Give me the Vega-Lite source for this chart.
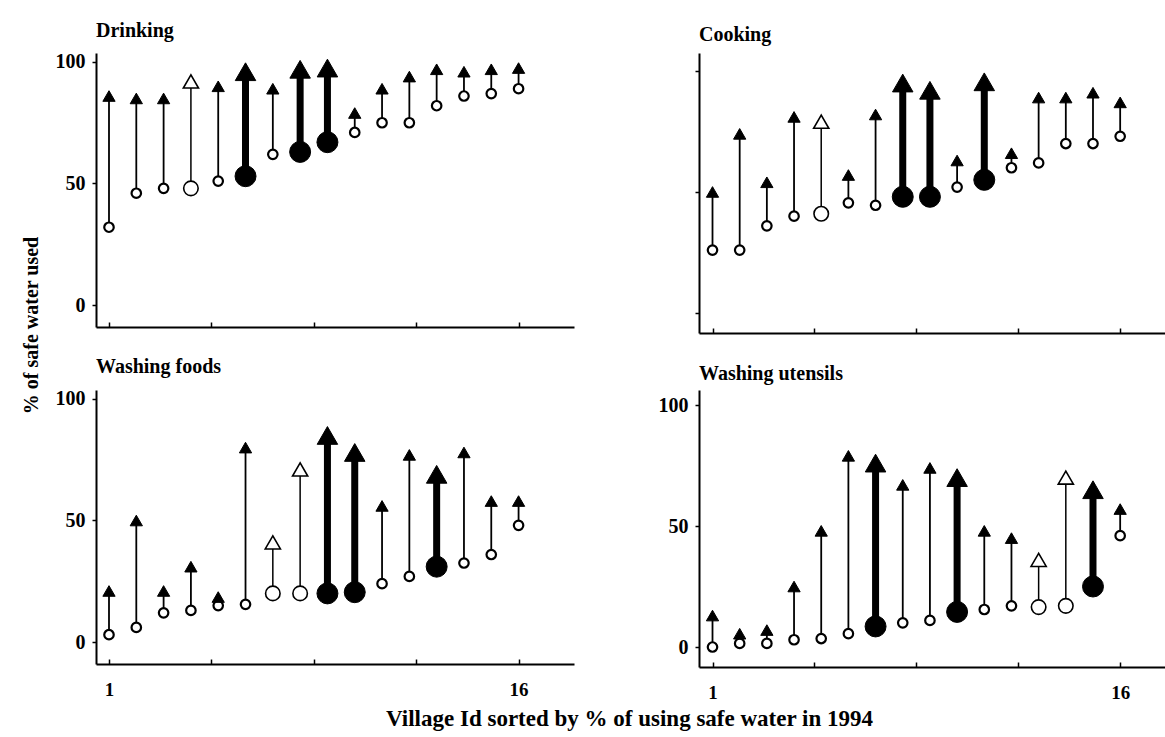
{
  "$schema": "https://vega.github.io/schema/vega-lite/v6.json",
  "padding": {"left": 21, "top": 20, "right": 0, "bottom": 0},
  "background": "white",
  "config": {
    "view": {"stroke": null},
    "font": "Liberation Serif",
    "axis": {
      "grid": false,
      "domainColor": "black",
      "domainWidth": 2,
      "tickColor": "black",
      "tickWidth": 1.5,
      "labelFont": "Liberation Serif",
      "labelFontSize": 20,
      "labelFontWeight": "bold",
      "labelColor": "black",
      "titleFont": "Liberation Serif",
      "titleColor": "black"
    },
    "title": {"font": "Liberation Serif", "fontSize": 20, "fontWeight": "bold", "color": "black"}
  },
  "data": {
    "values": [
      {"panel": "Drinking", "village": 1, "start": 32, "end": 86, "group": "a"},
      {"panel": "Drinking", "village": 2, "start": 46, "end": 85, "group": "a"},
      {"panel": "Drinking", "village": 3, "start": 48, "end": 85, "group": "a"},
      {"panel": "Drinking", "village": 4, "start": 48, "end": 92, "group": "c"},
      {"panel": "Drinking", "village": 5, "start": 51, "end": 90, "group": "a"},
      {"panel": "Drinking", "village": 6, "start": 53, "end": 96, "group": "b"},
      {"panel": "Drinking", "village": 7, "start": 62, "end": 89, "group": "a"},
      {"panel": "Drinking", "village": 8, "start": 63, "end": 97, "group": "b"},
      {"panel": "Drinking", "village": 9, "start": 67, "end": 97.5, "group": "b"},
      {"panel": "Drinking", "village": 10, "start": 71, "end": 79, "group": "a"},
      {"panel": "Drinking", "village": 11, "start": 75, "end": 89, "group": "a"},
      {"panel": "Drinking", "village": 12, "start": 75, "end": 94, "group": "a"},
      {"panel": "Drinking", "village": 13, "start": 82, "end": 97, "group": "a"},
      {"panel": "Drinking", "village": 14, "start": 86, "end": 96, "group": "a"},
      {"panel": "Drinking", "village": 15, "start": 87, "end": 97, "group": "a"},
      {"panel": "Drinking", "village": 16, "start": 89, "end": 97.5, "group": "a"},
      {"panel": "Cooking", "village": 1, "start": 26, "end": 50, "group": "a"},
      {"panel": "Cooking", "village": 2, "start": 26, "end": 74, "group": "a"},
      {"panel": "Cooking", "village": 3, "start": 36, "end": 54, "group": "a"},
      {"panel": "Cooking", "village": 4, "start": 40, "end": 81, "group": "a"},
      {"panel": "Cooking", "village": 5, "start": 41, "end": 79, "group": "c"},
      {"panel": "Cooking", "village": 6, "start": 45.5, "end": 57, "group": "a"},
      {"panel": "Cooking", "village": 7, "start": 44.5, "end": 82, "group": "a"},
      {"panel": "Cooking", "village": 8, "start": 48, "end": 95, "group": "b"},
      {"panel": "Cooking", "village": 9, "start": 48, "end": 92, "group": "b"},
      {"panel": "Cooking", "village": 10, "start": 52, "end": 63, "group": "a"},
      {"panel": "Cooking", "village": 11, "start": 55, "end": 95.5, "group": "b"},
      {"panel": "Cooking", "village": 12, "start": 60, "end": 66, "group": "a"},
      {"panel": "Cooking", "village": 13, "start": 62, "end": 89, "group": "a"},
      {"panel": "Cooking", "village": 14, "start": 70, "end": 89, "group": "a"},
      {"panel": "Cooking", "village": 15, "start": 70, "end": 91, "group": "a"},
      {"panel": "Cooking", "village": 16, "start": 73, "end": 87, "group": "a"},
      {"panel": "Washing foods", "village": 1, "start": 3, "end": 21, "group": "a"},
      {"panel": "Washing foods", "village": 2, "start": 6, "end": 50, "group": "a"},
      {"panel": "Washing foods", "village": 3, "start": 12, "end": 21, "group": "a"},
      {"panel": "Washing foods", "village": 4, "start": 13, "end": 31, "group": "a"},
      {"panel": "Washing foods", "village": 5, "start": 15, "end": 18.5, "group": "a"},
      {"panel": "Washing foods", "village": 6, "start": 15.5, "end": 80, "group": "a"},
      {"panel": "Washing foods", "village": 7, "start": 20, "end": 41, "group": "c"},
      {"panel": "Washing foods", "village": 8, "start": 20, "end": 71, "group": "c"},
      {"panel": "Washing foods", "village": 9, "start": 20, "end": 85, "group": "b"},
      {"panel": "Washing foods", "village": 10, "start": 20.5, "end": 78, "group": "b"},
      {"panel": "Washing foods", "village": 11, "start": 24, "end": 56, "group": "a"},
      {"panel": "Washing foods", "village": 12, "start": 27, "end": 77, "group": "a"},
      {"panel": "Washing foods", "village": 13, "start": 31, "end": 69, "group": "b"},
      {"panel": "Washing foods", "village": 14, "start": 32.5, "end": 78, "group": "a"},
      {"panel": "Washing foods", "village": 15, "start": 36, "end": 58, "group": "a"},
      {"panel": "Washing foods", "village": 16, "start": 48, "end": 58, "group": "a"},
      {"panel": "Washing utensils", "village": 1, "start": 0, "end": 13, "group": "a"},
      {"panel": "Washing utensils", "village": 2, "start": 1.5, "end": 5.5, "group": "a"},
      {"panel": "Washing utensils", "village": 3, "start": 1.5, "end": 7, "group": "a"},
      {"panel": "Washing utensils", "village": 4, "start": 3, "end": 25, "group": "a"},
      {"panel": "Washing utensils", "village": 5, "start": 3.5, "end": 48, "group": "a"},
      {"panel": "Washing utensils", "village": 6, "start": 5.5, "end": 79, "group": "a"},
      {"panel": "Washing utensils", "village": 7, "start": 8.5, "end": 76, "group": "b"},
      {"panel": "Washing utensils", "village": 8, "start": 10, "end": 67, "group": "a"},
      {"panel": "Washing utensils", "village": 9, "start": 11, "end": 74, "group": "a"},
      {"panel": "Washing utensils", "village": 10, "start": 14.5, "end": 70, "group": "b"},
      {"panel": "Washing utensils", "village": 11, "start": 15.5, "end": 48, "group": "a"},
      {"panel": "Washing utensils", "village": 12, "start": 17, "end": 45, "group": "a"},
      {"panel": "Washing utensils", "village": 13, "start": 16.5, "end": 36, "group": "c"},
      {"panel": "Washing utensils", "village": 14, "start": 17, "end": 70, "group": "c"},
      {"panel": "Washing utensils", "village": 15, "start": 25, "end": 65, "group": "b"},
      {"panel": "Washing utensils", "village": 16, "start": 46, "end": 57, "group": "a"}
    ]
  },
  "title": {
    "text": "Village Id sorted by % of using safe water in 1994",
    "orient": "bottom",
    "anchor": "middle",
    "baseline": "top",
    "fontSize": 23,
    "dx": 35,
    "offset": 6
  },
  "columns": 2,
  "align": "each",
  "bounds": "flush",
  "spacing": {"row": 57, "column": 125},
  "resolve": {"scale": {"x": "independent", "y": "independent"}},
  "concat": [
    {
      "width": 478,
      "height": 274,
      "title": {"text": "Drinking", "anchor": "start", "baseline": "alphabetic", "offset": -5, "frame": "group"},
      "transform": [{"filter": "datum.panel == 'Drinking'"}],
      "encoding": {
        "x": {"field": "village", "type": "quantitative", "scale": {"domain": [0.524, 18.03], "nice": false, "zero": false},
              "axis": {"values": [1, 4.75, 8.5, 12.25, 16], "labels": false, "tickSize": -5, "title": null}}
      },
      "layer": [
        {"mark": {"type": "rule", "color": "black"},
         "encoding": {
           "y": {"field": "start", "type": "quantitative", "scale": {"domain": [-9.05, 103.7], "nice": false, "zero": false},
                 "axis": {"values": [0, 50, 100], "tickSize": 4, "labelPadding": 7,
                          "title": "% of safe water used", "titleFontSize": 20, "titleFontWeight": "bold",
                          "titleAngle": 270, "titleAlign": "center", "titleBaseline": "alphabetic",
                          "titleX": -59, "titleY": 272}},
           "y2": {"field": "end"},
           "strokeWidth": {"condition": [{"test": "datum.group == 'b'", "value": 7}, {"test": "datum.group == 'c'", "value": 1.5}], "value": 1.8}
         }},
        {"mark": {"type": "point", "shape": "circle", "filled": true, "opacity": 1, "stroke": "black"},
         "encoding": {
           "y": {"field": "start", "type": "quantitative"},
           "size": {"condition": [{"test": "datum.group == 'b'", "value": 440}, {"test": "datum.group == 'c'", "value": 210}], "value": 90},
           "fill": {"condition": {"test": "datum.group == 'b'", "value": "black"}, "value": "white"},
           "strokeWidth": {"condition": [{"test": "datum.group == 'b'", "value": 1}, {"test": "datum.group == 'c'", "value": 1.6}], "value": 2.2}
         }},
        {"mark": {"type": "point", "shape": "triangle-up", "filled": true, "opacity": 1, "stroke": "black"},
         "encoding": {
           "y": {"field": "end", "type": "quantitative"},
           "size": {"condition": [{"test": "datum.group == 'b'", "value": 420}, {"test": "datum.group == 'c'", "value": 230}], "value": 150},
           "fill": {"condition": {"test": "datum.group == 'c'", "value": "white"}, "value": "black"},
           "strokeWidth": {"condition": {"test": "datum.group == 'c'", "value": 1.6}, "value": 1}
         }}
      ]
    },
    {
      "width": 469,
      "height": 280,
      "title": {"text": "Cooking", "anchor": "start", "baseline": "alphabetic", "offset": -8, "frame": "group"},
      "transform": [{"filter": "datum.panel == 'Cooking'"}],
      "encoding": {
        "x": {"field": "village", "type": "quantitative", "scale": {"domain": [0.503, 17.76], "nice": false, "zero": false},
              "axis": {"values": [1, 4.75, 8.5, 12.25, 16], "labels": false, "tickSize": -5, "title": null}}
      },
      "layer": [
        {"mark": {"type": "rule", "color": "black"},
         "encoding": {
           "y": {"field": "start", "type": "quantitative", "scale": {"domain": [-8.26, 107.4], "nice": false, "zero": false},
                 "axis": {"values": [0, 50, 100], "tickSize": 4, "labels": false, "title": null}},
           "y2": {"field": "end"},
           "strokeWidth": {"condition": [{"test": "datum.group == 'b'", "value": 7}, {"test": "datum.group == 'c'", "value": 1.5}], "value": 1.8}
         }},
        {"mark": {"type": "point", "shape": "circle", "filled": true, "opacity": 1, "stroke": "black"},
         "encoding": {
           "y": {"field": "start", "type": "quantitative"},
           "size": {"condition": [{"test": "datum.group == 'b'", "value": 440}, {"test": "datum.group == 'c'", "value": 210}], "value": 90},
           "fill": {"condition": {"test": "datum.group == 'b'", "value": "black"}, "value": "white"},
           "strokeWidth": {"condition": [{"test": "datum.group == 'b'", "value": 1}, {"test": "datum.group == 'c'", "value": 1.6}], "value": 2.2}
         }},
        {"mark": {"type": "point", "shape": "triangle-up", "filled": true, "opacity": 1, "stroke": "black"},
         "encoding": {
           "y": {"field": "end", "type": "quantitative"},
           "size": {"condition": [{"test": "datum.group == 'b'", "value": 420}, {"test": "datum.group == 'c'", "value": 230}], "value": 150},
           "fill": {"condition": {"test": "datum.group == 'c'", "value": "white"}, "value": "black"},
           "strokeWidth": {"condition": {"test": "datum.group == 'c'", "value": 1.6}, "value": 1}
         }}
      ]
    },
    {
      "width": 478,
      "height": 274,
      "title": {"text": "Washing foods", "anchor": "start", "baseline": "alphabetic", "offset": -4, "frame": "group"},
      "transform": [{"filter": "datum.panel == 'Washing foods'"}],
      "encoding": {
        "x": {"field": "village", "type": "quantitative", "scale": {"domain": [0.524, 18.03], "nice": false, "zero": false},
              "axis": {"values": [1, 4.75, 8.5, 12.25, 16], "labelExpr": "datum.value == 1 || datum.value == 16 ? datum.label : ''", "labelFontSize": 19, "tickSize": -5, "labelPadding": 21, "labelFlush": false, "labelOverlap": false, "title": null}}
      },
      "layer": [
        {"mark": {"type": "rule", "color": "black"},
         "encoding": {
           "y": {"field": "start", "type": "quantitative", "scale": {"domain": [-9.05, 103.7], "nice": false, "zero": false},
                 "axis": {"values": [0, 50, 100], "tickSize": 4, "labelPadding": 7, "title": null}},
           "y2": {"field": "end"},
           "strokeWidth": {"condition": [{"test": "datum.group == 'b'", "value": 7}, {"test": "datum.group == 'c'", "value": 1.5}], "value": 1.8}
         }},
        {"mark": {"type": "point", "shape": "circle", "filled": true, "opacity": 1, "stroke": "black"},
         "encoding": {
           "y": {"field": "start", "type": "quantitative"},
           "size": {"condition": [{"test": "datum.group == 'b'", "value": 440}, {"test": "datum.group == 'c'", "value": 210}], "value": 90},
           "fill": {"condition": {"test": "datum.group == 'b'", "value": "black"}, "value": "white"},
           "strokeWidth": {"condition": [{"test": "datum.group == 'b'", "value": 1}, {"test": "datum.group == 'c'", "value": 1.6}], "value": 2.2}
         }},
        {"mark": {"type": "point", "shape": "triangle-up", "filled": true, "opacity": 1, "stroke": "black"},
         "encoding": {
           "y": {"field": "end", "type": "quantitative"},
           "size": {"condition": [{"test": "datum.group == 'b'", "value": 420}, {"test": "datum.group == 'c'", "value": 230}], "value": 150},
           "fill": {"condition": {"test": "datum.group == 'c'", "value": "white"}, "value": "black"},
           "strokeWidth": {"condition": {"test": "datum.group == 'c'", "value": 1.6}, "value": 1}
         }}
      ]
    },
    {
      "width": 469,
      "height": 277,
      "title": {"text": "Washing utensils", "anchor": "start", "baseline": "alphabetic", "offset": -10, "frame": "group"},
      "transform": [{"filter": "datum.panel == 'Washing utensils'"}],
      "encoding": {
        "x": {"field": "village", "type": "quantitative", "scale": {"domain": [0.503, 17.76], "nice": false, "zero": false},
              "axis": {"values": [1, 4.75, 8.5, 12.25, 16], "labelExpr": "datum.value == 1 || datum.value == 16 ? datum.label : ''", "labelFontSize": 19, "tickSize": -5, "labelPadding": 21, "labelFlush": false, "labelOverlap": false, "title": null}}
      },
      "layer": [
        {"mark": {"type": "rule", "color": "black"},
         "encoding": {
           "y": {"field": "start", "type": "quantitative", "scale": {"domain": [-8.26, 106.2], "nice": false, "zero": false},
                 "axis": {"values": [0, 50, 100], "tickSize": 4, "labelPadding": 7, "title": null}},
           "y2": {"field": "end"},
           "strokeWidth": {"condition": [{"test": "datum.group == 'b'", "value": 7}, {"test": "datum.group == 'c'", "value": 1.5}], "value": 1.8}
         }},
        {"mark": {"type": "point", "shape": "circle", "filled": true, "opacity": 1, "stroke": "black"},
         "encoding": {
           "y": {"field": "start", "type": "quantitative"},
           "size": {"condition": [{"test": "datum.group == 'b'", "value": 440}, {"test": "datum.group == 'c'", "value": 210}], "value": 90},
           "fill": {"condition": {"test": "datum.group == 'b'", "value": "black"}, "value": "white"},
           "strokeWidth": {"condition": [{"test": "datum.group == 'b'", "value": 1}, {"test": "datum.group == 'c'", "value": 1.6}], "value": 2.2}
         }},
        {"mark": {"type": "point", "shape": "triangle-up", "filled": true, "opacity": 1, "stroke": "black"},
         "encoding": {
           "y": {"field": "end", "type": "quantitative"},
           "size": {"condition": [{"test": "datum.group == 'b'", "value": 420}, {"test": "datum.group == 'c'", "value": 230}], "value": 150},
           "fill": {"condition": {"test": "datum.group == 'c'", "value": "white"}, "value": "black"},
           "strokeWidth": {"condition": {"test": "datum.group == 'c'", "value": 1.6}, "value": 1}
         }}
      ]
    }
  ]
}
